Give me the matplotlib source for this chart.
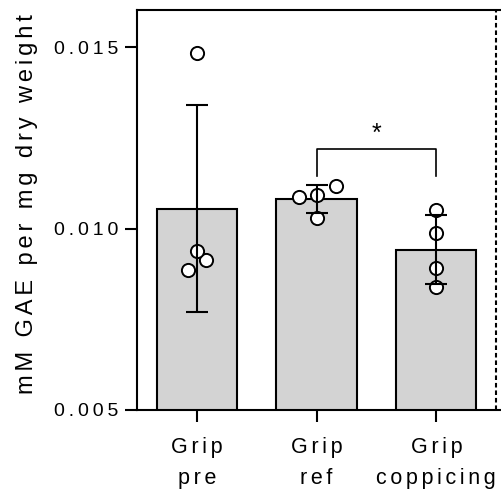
import matplotlib.pyplot as plt
import numpy as np

plt.rcParams['font.family'] = ['Liberation Sans', 'DejaVu Sans']

# data
groups = ['Grip\npre', 'Grip\nref', 'Grip\ncoppicing']
means = [0.010545, 0.010820, 0.009420]
sds = [0.00285, 0.000385, 0.00096]

# single measurements (x offset within the bar, value)
pre_x = [0.0, 0.075, -0.075, 0.0]
pre_y = [0.01483, 0.00914, 0.00886, 0.00937]
ref_x = [-0.15, 0.0, 0.16, 0.0]
ref_y = [0.01088, 0.01091, 0.01118, 0.01028]
cop_x = [0.0, 0.0, 0.0, 0.0]
cop_y = [0.01050, 0.00988, 0.00892, 0.00840]

yticks = [0.005, 0.010, 0.015]
sig_pair = (1, 2)
sig_y = 0.0122
sig_drop = 0.00074


def spaced(s, sp='\u2009'):
    # wide letter spacing like the original (Prism style)
    return '\n'.join(sp.join(line) for line in s.split('\n'))


fig = plt.figure(figsize=(5.01, 4.91), dpi=100)
ax = fig.add_axes([137/501, 81/491, 364/501, 400/491])

x = np.arange(len(groups))
ax.bar(x, means, width=0.67, color='#d3d3d3', edgecolor='black', linewidth=1.5, zorder=2)

for i, (xs, ys) in enumerate([(pre_x, pre_y), (ref_x, ref_y), (cop_x, cop_y)]):
    ax.scatter(i + np.array(xs), ys, s=90, facecolor='white', edgecolor='black',
               linewidth=1.4, zorder=3, clip_on=False)

ax.errorbar(x, means, yerr=sds, fmt='none', ecolor='black', elinewidth=1.5,
            capsize=8, capthick=1.5, zorder=4)

# significance bracket
a, b = sig_pair
ax.plot([a, a, b, b], [sig_y - sig_drop, sig_y, sig_y, sig_y - sig_drop],
        color='black', linewidth=1.2, zorder=4)
ax.text((a + b) / 2, 0.01242, '*', ha='center', va='baseline', fontsize=18)

# dashed divider at right edge
ax.axvline(2.5, color='black', linestyle=(0, (2.2, 1.4)), linewidth=1.5)

ax.set_xlim(-0.5, 2.54)
ax.set_ylim(0.005, 0.01602)
ax.set_yticks(yticks)
ax.set_yticklabels([spaced('%.3f' % v) for v in yticks], fontsize=14)
ax.set_xticks(x)
ax.set_xticklabels([spaced(g, '\u2006') for g in groups], fontsize=15.5, linespacing=1.65)

ax.spines['right'].set_visible(False)
for s in ['left', 'top', 'bottom']:
    ax.spines[s].set_linewidth(1.5)
ax.tick_params(axis='both', length=8.5, width=1.5, color='black')
ax.tick_params(axis='y', pad=5)
ax.tick_params(axis='x', pad=11)

ax.set_ylabel(spaced('mM GAE per mg dry weight', '\u2006'), fontsize=17, labelpad=9)
ax.yaxis.set_label_coords(-0.272, 0.515)

plt.savefig('out.png', dpi=100)
